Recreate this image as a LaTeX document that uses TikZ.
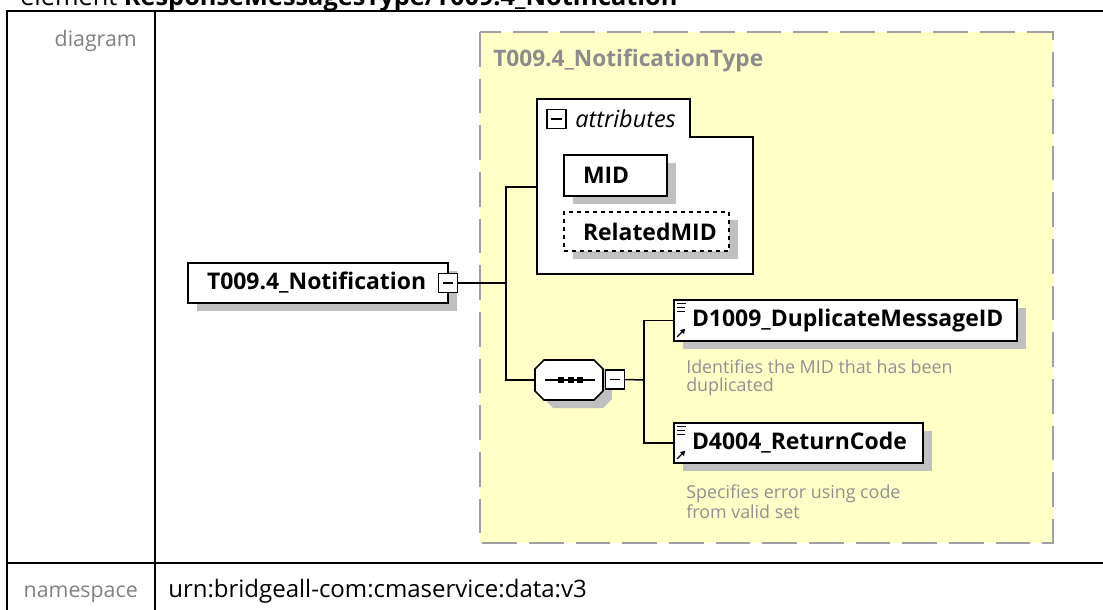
\documentclass[tikz,border=0pt]{standalone}
\usepackage{fontspec}
\setmainfont{Open Sans}
\usetikzlibrary{shadows,arrows.meta}
\definecolor{ybg}{HTML}{FFFFC8}
\definecolor{dashc}{HTML}{A0A0A0}
\definecolor{shadc}{HTML}{C0C0C0}
\definecolor{tgray}{HTML}{8C8C8C}
\definecolor{dgray}{HTML}{909090}
\definecolor{lgray}{HTML}{808080}
\begin{document}
\begin{tikzpicture}[x=0.75pt,y=-0.75pt,
  tline/.style={line width=1.5pt},
  conn/.style={line width=1.1pt},
  shad/.style={drop shadow={shadow xshift=6.75pt,shadow yshift=-6pt,fill=shadc,opacity=1}},
  elem/.style={draw,line width=1.2pt,fill=white,shad,inner ysep=0pt,align=left,
     font=\fontsize{17.2}{20}\selectfont\bfseries},
  minusbox/.style={draw,line width=1pt,fill=white,minimum width=14.25pt,minimum height=14.25pt,inner sep=0pt},
  desc/.style={anchor=north west,inner sep=0pt,text=dgray,align=left,font=\fontsize{13.4}{13.2}\selectfont},
  rowlabel/.style={text=lgray,inner sep=0pt,font=\fontsize{16}{18}\selectfont},
]
\useasboundingbox (0,0) rectangle (1103,610);
\clip (0,0) rectangle (1103,610);
% header
\node[anchor=base west,inner sep=0pt,font=\fontsize{19}{21}\selectfont] (hdr) at (20,6) {element \textbf{ResponseMessagesType/T009.4\_Notification}};
% table
\draw[tline] (1110,11) -- (7,11) -- (7,620);
\draw[tline] (155,11) -- (155,620);
\draw[tline] (7,563) -- (1110,563);
\node[rowlabel,anchor=base east] (lbldiag) at (137,47) {diagram};
\node[rowlabel,anchor=base east] (lblns) at (138,597) {namespace};
\node[anchor=base west,inner sep=0pt,font=\fontsize{18}{20}\selectfont] (ns) at (168,597) {urn:bridgeall-com:cmaservice:data:v3};
% complex type box
\draw[fill=ybg,draw=dashc,line width=1.5pt,dash pattern=on 26pt off 9pt] (480,32) rectangle (1053,543);
\node[anchor=base west,inner sep=0pt,text=tgray,font=\fontsize{17}{20}\selectfont\bfseries] (tname) at (493,67) {T009.4\_NotificationType};
% main element
\node[elem,minimum width=195pt,minimum height=30pt,inner xsep=14.25pt,text width=166.5pt] (notif) at (318,283) {\mbox{T009.4\_Notification}};
\node[minusbox] (notifm) at (448,283) {};
\draw[line width=1pt] ([xshift=-4pt]notifm.center) -- ([xshift=4pt]notifm.center);
% attributes group
\draw[line width=1.2pt,fill=white] (537,99) -- (690,99) -- (690,137) -- (753,137) -- (753,274) -- (537,274) -- cycle;
\coordinate (attrL) at (537,187);
\node[minusbox] (attrm) at (556.5,119) {};
\draw[line width=1pt] ([xshift=-4pt]attrm.center) -- ([xshift=4pt]attrm.center);
\node[anchor=west,inner sep=0pt,font=\fontsize{17.6}{20}\selectfont\itshape] (attrlbl) at (575,119) {attributes};
\node[elem,minimum width=77.25pt,minimum height=30.75pt,inner xsep=14.25pt,text width=48.75pt] (mid) at (615.5,175.5) {\mbox{MID}};
\node[elem,dashed,minimum width=123.75pt,minimum height=29.25pt,inner xsep=14.25pt,text width=95.25pt] (rmid) at (646.5,231.5) {\mbox{RelatedMID}};
% sequence compositor (octagon)
\fill[shadc,shift={(9,8)}] (544,360) -- (594,360) -- (603,369) -- (603,391) -- (594,400) -- (544,400) -- (535,391) -- (535,369) -- cycle;
\draw[line width=1.2pt,fill=white] (544,360) -- (594,360) -- (603,369) -- (603,391) -- (594,400) -- (544,400) -- (535,391) -- (535,369) -- cycle;
\node[minimum width=51pt,minimum height=30pt,inner sep=0pt] (seq) at (569,380) {};
\draw[line width=1pt] (545,380) -- (595,380);
\foreach \cx in {561,570.5,580} \fill (\cx-3,377) rectangle (\cx+3,383);
\node[minusbox] (seqm) at (615,379.5) {};
\draw[line width=1pt] ([xshift=-4pt]seqm.center) -- ([xshift=4pt]seqm.center);
% child elements
\node[elem,minimum width=257.25pt,minimum height=30.75pt,inner xsep=13.5pt,text width=230.25pt] (d1) at (845.5,320.5) {\mbox{D1009\_DuplicateMessageID}};
\node[elem,minimum width=186.75pt,minimum height=30pt,inner xsep=13.5pt,text width=159.75pt] (d2) at (798.5,443) {\mbox{D4004\_ReturnCode}};
\foreach \n in {d1,d2}{
  \draw[line width=0.9pt,shift={(\n.north west)}] (4,4) -- (13,4) (4,8) -- (12,8) (4,12) -- (12,12);
  \draw[line width=1pt,-{Triangle[length=3.5pt,width=4pt]},shift={(\n.south west)}] (4,-5) -- (12,-13);
}
\node[desc] (d1desc) at (686,360) {Identifies the MID that has been\\duplicated};
\node[desc] (d2desc) at (686,485) {Specifies error using code\\from valid set};
% connectors
\coordinate (j1) at (506,283);
\coordinate (j2) at (644,380);
\draw[conn] (notifm.east) -- (j1);
\draw[conn] (attrL) -| (j1);
\draw[conn] (j1) |- (seq.west);
\draw[conn] (seqm.east) -- (j2);
\draw[conn] (d1.west) -| (j2);
\draw[conn] (d2.west) -| (j2);
\end{tikzpicture}
\end{document}
